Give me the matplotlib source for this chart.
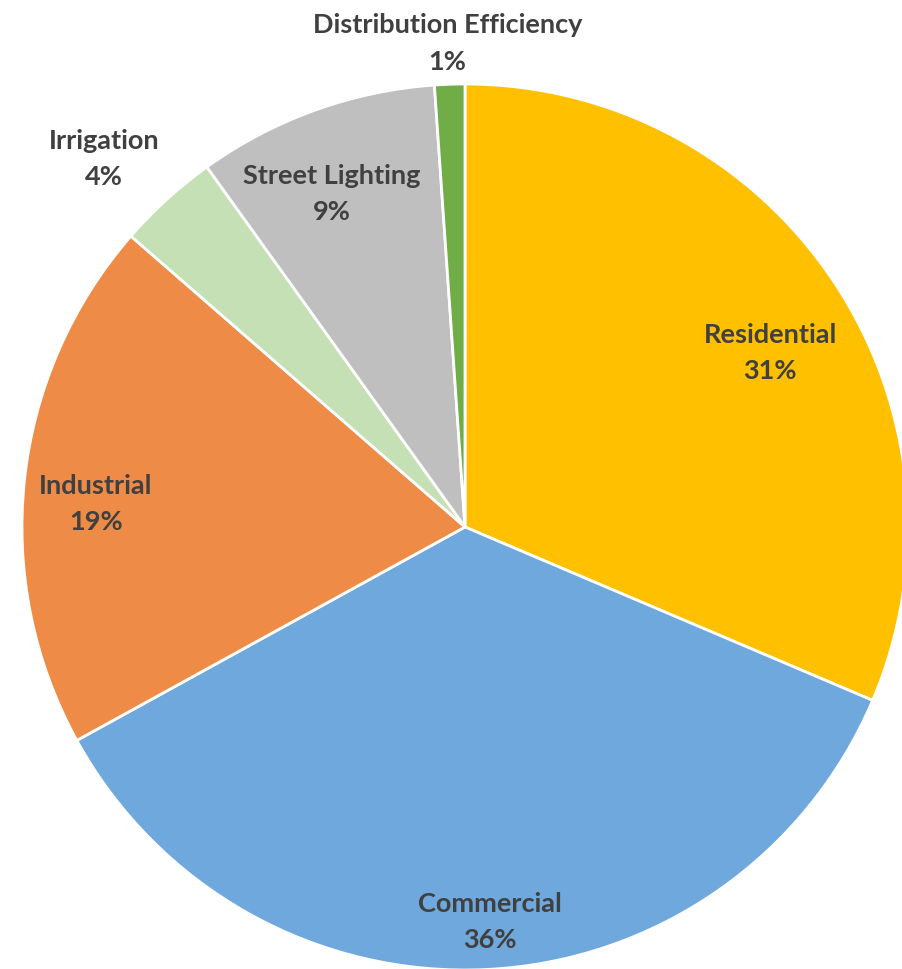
import matplotlib
matplotlib.use("Agg")
import matplotlib.pyplot as plt
import numpy as np

categories = ["Residential", "Commercial", "Industrial", "Irrigation",
              "Street Lighting", "Distribution Efficiency"]
values = [31.4, 35.6, 19.4, 3.7, 8.8, 1.1]
pct_labels = ["31%", "36%", "19%", "4%", "9%", "1%"]

colors = ["#FFC000", "#6FA8DC", "#ED8B47", "#C5E0B4", "#BFBFBF", "#70AD47"]
# label placement (polar, relative to pie radius)
label_angle = [29.8, -86.4, 176.3, 134.4, 111.7, 92.1]
label_dist = [0.794, 0.891, 0.835, 1.165, 0.812, 1.094]

fig = plt.figure(figsize=(9.03, 9.70), dpi=100)
ax = fig.add_axes([0, 0, 1, 1])
wedges, _ = ax.pie(values, colors=colors, startangle=90, counterclock=False,
                   radius=1.0, wedgeprops=dict(edgecolor="white", linewidth=2))

for cat, pl, a, d in zip(categories, pct_labels, label_angle, label_dist):
    ang = np.deg2rad(a)
    x, y = d * np.cos(ang), d * np.sin(ang)
    ax.text(x, y, f"{cat}\n{pl}", ha="center", va="center", fontsize=19.5,
            fontweight="bold", color="#404040", family="Lato", linespacing=1.62)

cx, cy, R = 465, 528, 443
ax.set_xlim(-cx / R, (903 - cx) / R)
ax.set_ylim(-(970 - cy) / R, cy / R)
ax.set_aspect("auto")
ax.axis("off")
fig.savefig("out.png", dpi=100)
